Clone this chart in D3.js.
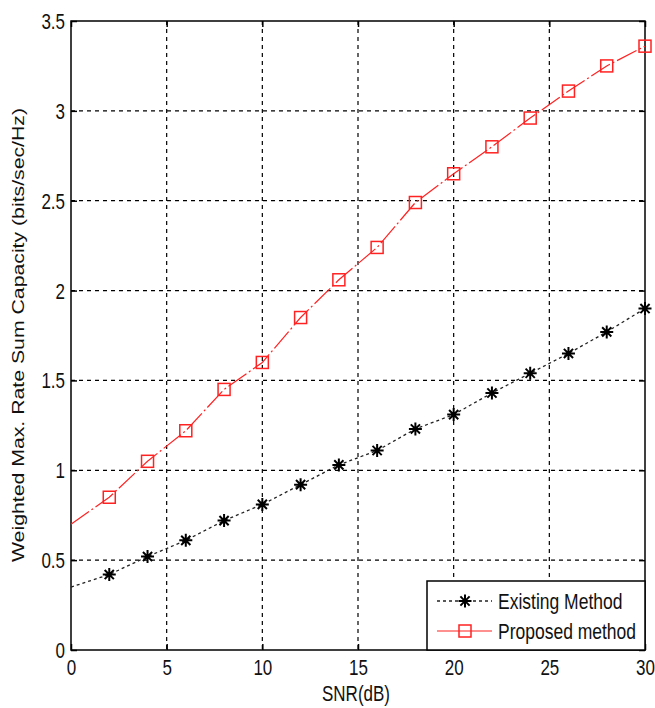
<!DOCTYPE html>
<html><head><meta charset="utf-8">
<script src="https://cdn.jsdelivr.net/npm/d3@7"></script>
<style>body{margin:0;background:#fff}text{font-family:"Liberation Sans",Arial,sans-serif;fill:#111}</style>
</head><body>
<svg id="c" width="655" height="708"></svg>
<script>
const snr = [0,2,4,6,8,10,12,14,16,18,20,22,24,26,28,30];
const existing = [0.35,0.42,0.52,0.61,0.72,0.81,0.92,1.03,1.11,1.23,1.31,1.43,1.54,1.65,1.77,1.90];
const proposed = [0.70,0.85,1.05,1.22,1.45,1.60,1.85,2.06,2.24,2.49,2.65,2.80,2.96,3.11,3.25,3.36];
const xTicks = [0,5,10,15,20,25,30];
const yTicks = [0,0.5,1,1.5,2,2.5,3,3.5];
const seriesNames = ["Existing Method","Proposed method"];

const svg = d3.select("#c");
const L=71,R=645,T=21,B=650;
const x = d3.scaleLinear().domain([0,30]).range([L,R]);
const y = d3.scaleLinear().domain([0,3.5]).range([B,T]);
const g = svg.append("g");
g.selectAll(".gx").data(xTicks.slice(1,-1)).join("line")
 .attr("x1",d=>x(d)).attr("x2",d=>x(d)).attr("y1",T).attr("y2",B)
 .attr("stroke","#000").attr("stroke-width",1.2).attr("stroke-dasharray","4,4");
g.selectAll(".gy").data(yTicks.slice(1,-1)).join("line")
 .attr("y1",d=>y(d)).attr("y2",d=>y(d)).attr("x1",L).attr("x2",R)
 .attr("stroke","#000").attr("stroke-width",1.2).attr("stroke-dasharray","4,4");
const sy = 1.25;
const xa = svg.append("g").attr("transform",`translate(0,${B})`)
 .call(d3.axisBottom(x).tickValues(xTicks).tickSize(-6).tickPadding(10).tickFormat(d3.format("d")));
const ya = svg.append("g").attr("transform",`translate(${L},0)`)
 .call(d3.axisLeft(y).tickValues(yTicks).tickSize(-6).tickPadding(6).tickFormat(d=>d));
svg.append("g").attr("transform",`translate(0,${T})`)
 .call(d3.axisTop(x).tickValues(xTicks).tickSize(-6).tickFormat("")).select(".domain").remove();
svg.append("g").attr("transform",`translate(${R},0)`)
 .call(d3.axisRight(y).tickValues(yTicks).tickSize(-6).tickFormat("")).select(".domain").remove();
[xa,ya].forEach(a=>{a.select(".domain").remove(); a.selectAll("text").attr("font-size",17).attr("font-family",null)
  .attr("fill","#111");});
svg.selectAll(".tick line").attr("stroke","#000").attr("stroke-width",1.5);
xa.selectAll(".tick text").each(function(){ const t=d3.select(this); t.attr("transform",`scale(1,${sy})`).attr("y",(+t.attr("y"))/sy);});
ya.selectAll(".tick text").each(function(){ const t=d3.select(this); t.attr("transform",`scale(1,${sy})`).attr("dy","0.35em").attr("y",0);});
svg.append("rect").attr("x",L).attr("y",T).attr("width",R-L).attr("height",B-T)
 .attr("fill","none").attr("stroke","#000").attr("stroke-width",1.5);

const pts = (ys)=>snr.map((s,i)=>[s,ys[i]]);
const line = d3.line().x(d=>x(d[0])).y(d=>y(d[1]));
svg.append("path").attr("d",line(pts(existing))).attr("fill","none").attr("stroke","#222")
 .attr("stroke-width",1.3).attr("stroke-dasharray","3,3");
svg.append("path").attr("d",line(pts(proposed))).attr("fill","none").attr("stroke","#f22")
 .attr("stroke-width",1.2).attr("stroke-dasharray","22,3,2,3");

function star(gs,cx,cy,col){
  const r=6.5, q=4.6;
  gs.append("path").attr("d",`M${cx-r},${cy}H${cx+r}M${cx},${cy-r}V${cy+r}M${cx-q},${cy-q}L${cx+q},${cy+q}M${cx-q},${cy+q}L${cx+q},${cy-q}`)
   .attr("stroke",col).attr("stroke-width",2).attr("fill","none");
}
function sq(gs,cx,cy,col){
  gs.append("rect").attr("x",cx-6).attr("y",cy-6).attr("width",12).attr("height",12)
   .attr("fill","none").attr("stroke",col).attr("stroke-width",1.5);
}
const mk = svg.append("g");
pts(existing).slice(1).forEach(d=>star(mk,x(d[0]),y(d[1]),"#000"));
pts(proposed).slice(1).forEach(d=>sq(mk,x(d[0]),y(d[1]),"#f22"));

const lg = svg.append("g");
lg.append("rect").attr("x",427).attr("y",581).attr("width",R-427).attr("height",B-581)
 .attr("fill","#fff").attr("stroke","#000").attr("stroke-width",1.5);
lg.append("line").attr("x1",437).attr("x2",492).attr("y1",601).attr("y2",601).attr("stroke","#222")
 .attr("stroke-width",1.3).attr("stroke-dasharray","3,3");
star(lg,465,601,"#000");
lg.append("line").attr("x1",437).attr("x2",492).attr("y1",631).attr("y2",631).attr("stroke","#f22").attr("stroke-width",1.2);
sq(lg,465,631,"#f22");
seriesNames.forEach((n,i)=>{
  lg.append("text").attr("x",498).attr("y",(601+i*30)/sy).attr("dy","0.35em").attr("font-size",17.5)
   .attr("transform",`scale(1,${sy})`).text(n);
});
svg.append("text").attr("x",356).attr("y",701/sy).attr("text-anchor","middle").attr("font-size",17)
 .attr("transform",`scale(1,${sy})`).text("SNR(dB)");
svg.append("text").attr("transform",`translate(24,335) rotate(-90) scale(${sy},1)`).attr("text-anchor","middle")
 .attr("font-size",17).text("Weighted Max. Rate Sum Capacity (bits/sec/Hz)");
</script></body></html>
